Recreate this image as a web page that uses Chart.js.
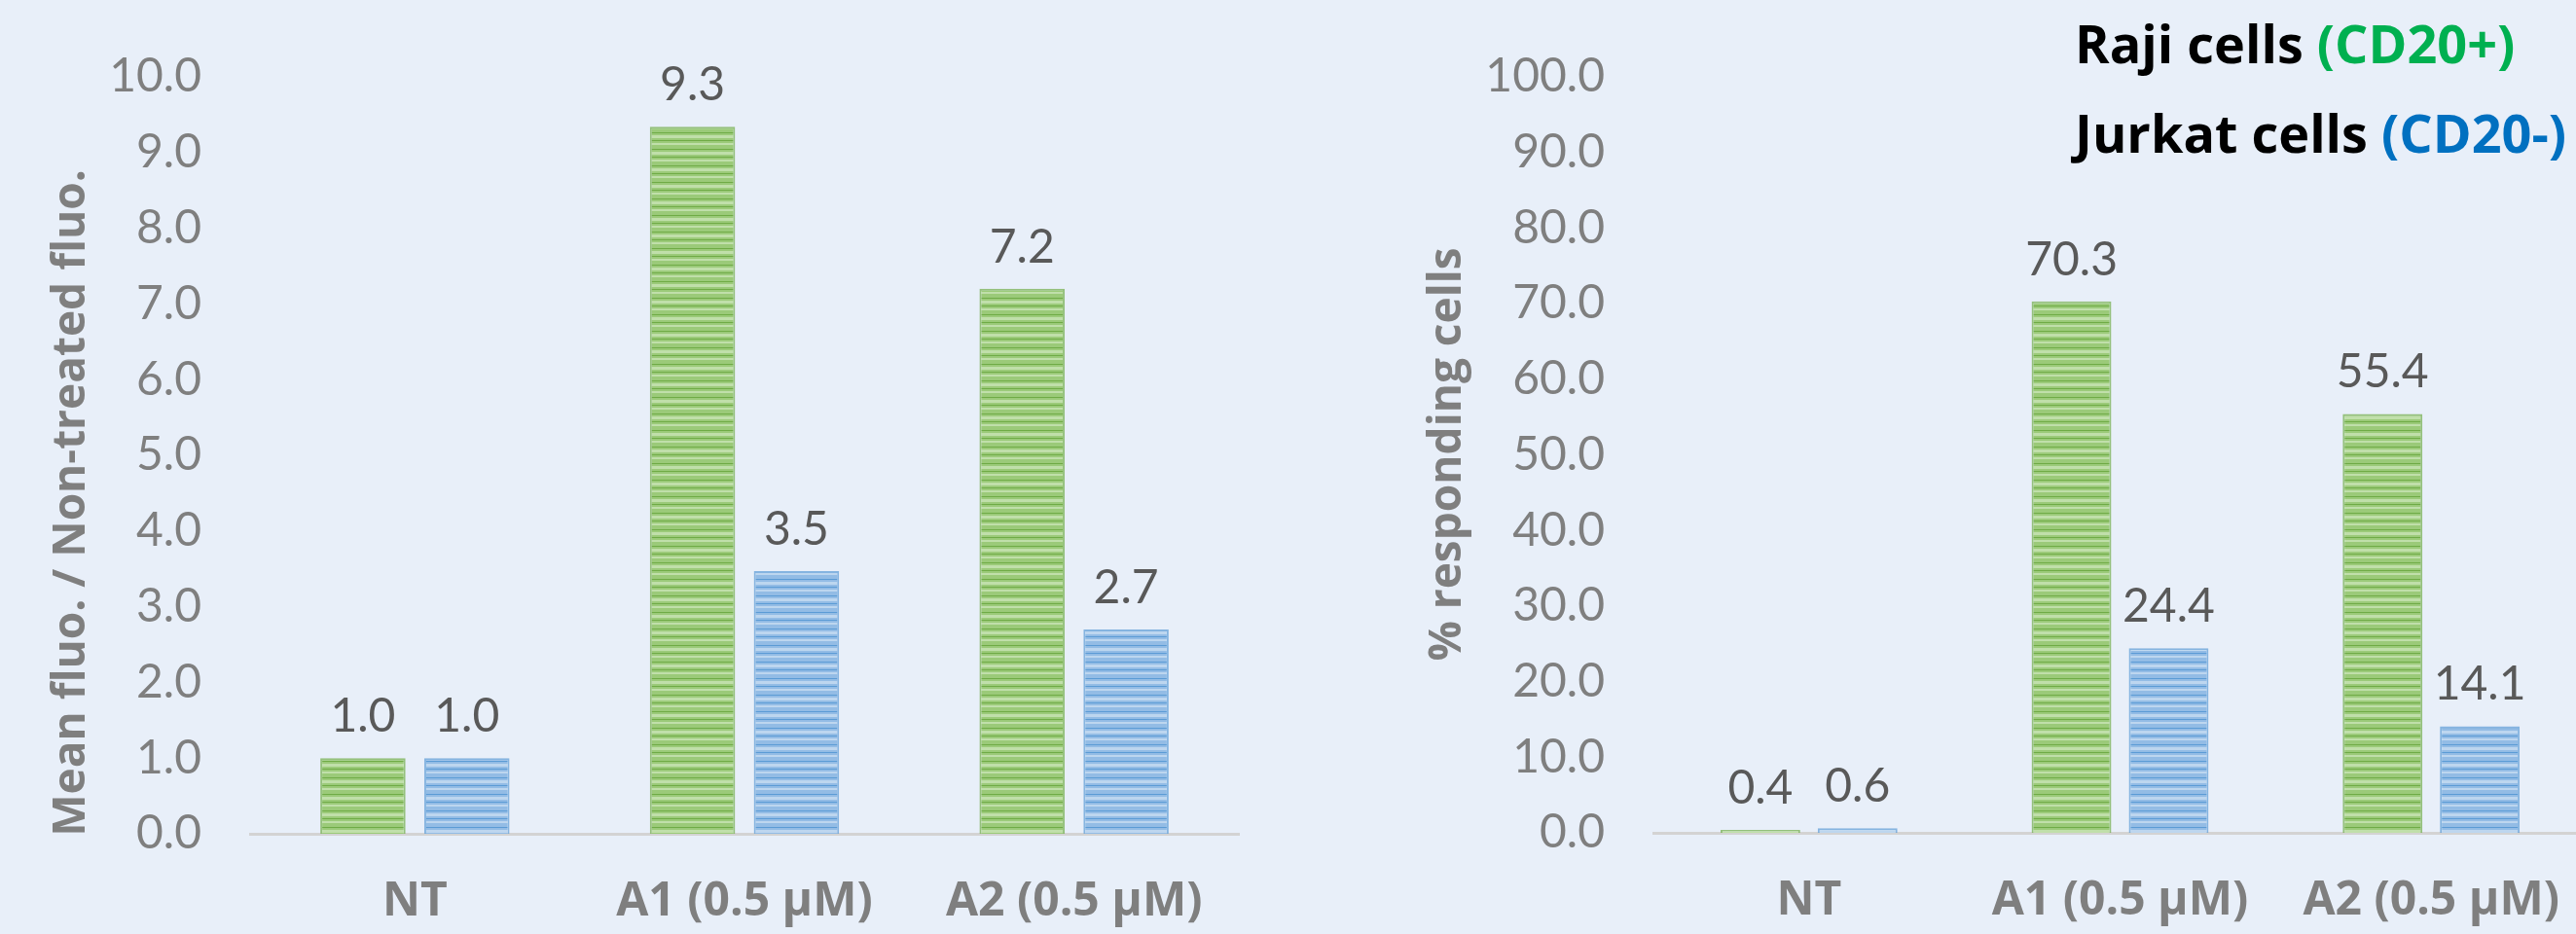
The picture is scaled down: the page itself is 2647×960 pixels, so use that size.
<!DOCTYPE html>
<html>
<head>
<meta charset="utf-8">
<script src="https://cdn.jsdelivr.net/npm/chart.js@4.4.1/dist/chart.umd.min.js"></script>
<style>
  html, body { margin: 0; padding: 0; width: 2647px; height: 960px; overflow: hidden; background: #e8eff9; }
  #fluo { position: absolute; left: 0; top: 0; }
  #resp { position: absolute; left: 1400px; top: 0; }
  #legend { position: absolute; left: 2132px; top: -2px; font: bold 54px "Open Sans"; line-height: 92px; color: #000; white-space: nowrap; }
  .raji { color: #00b050; }
  .jurkat { color: #0070c0; }
</style>
</head>
<body>
<canvas id="fluo" width="1400" height="960"></canvas>
<canvas id="resp" width="1300" height="960"></canvas>
<div id="legend">
  <div>Raji cells <span class="raji">(CD20+)</span></div>
  <div>Jurkat cells <span class="jurkat">(CD20-)</span></div>
</div>
<script>
const categories = ["NT", "A1 (0.5 µM)", "A2 (0.5 µM)"];
const seriesNames = ["Raji cells (CD20+)", "Jurkat cells (CD20-)"];

// left panel: mean fluorescence ratio
const rajiFluo = [1.0, 9.34, 7.2];
const jurkatFluo = [1.0, 3.47, 2.7];
const fluoMax = 10;
const fluoStep = 1;

// right panel: % responding cells
const rajiResp = [0.4, 70.3, 55.4];
const jurkatResp = [0.6, 24.4, 14.1];
const respMax = 100;
const respStep = 10;

const GREY = "#7f7f7f";

function stripes(base, light, dark) {
  const c = document.createElement("canvas");
  c.width = 4;
  c.height = 17;
  const g = c.getContext("2d");
  g.fillStyle = base;
  g.fillRect(0, 0, 4, 17);
  g.fillStyle = light;
  g.fillRect(0, 3, 4, 3);
  g.fillRect(0, 11, 4, 2);
  g.fillStyle = dark;
  g.fillRect(0, 0, 4, 1);
  g.fillRect(0, 8, 4, 1);
  return g.createPattern(c, "repeat");
}

const greenFill = stripes("#9bca79", "#c0dfaa", "#6fab46");
const blueFill = stripes("#93bce5", "#bdd6ef", "#5b9bd5");

// value above each bar
const valueLabels = {
  id: "valueLabels",
  afterDatasetsDraw(chart) {
    const ctx = chart.ctx;
    ctx.save();
    ctx.font = "48px Lato";
    ctx.fillStyle = "#595959";
    ctx.textAlign = "center";
    ctx.textBaseline = "alphabetic";
    chart.data.datasets.forEach((ds, i) => {
      chart.getDatasetMeta(i).data.forEach((bar, j) => {
        ctx.fillText(ds.data[j].toFixed(1), bar.x, bar.y - 27);
      });
    });
    ctx.restore();
  }
};

// rotated y axis title, placed by hand
const axisTitle = {
  id: "axisTitle",
  afterDraw(chart, args, opts) {
    const ctx = chart.ctx;
    ctx.save();
    ctx.translate(opts.x, opts.y);
    ctx.rotate(-Math.PI / 2);
    ctx.font = 'bold 46px "Open Sans"';
    ctx.fillStyle = GREY;
    ctx.textAlign = "center";
    ctx.textBaseline = "alphabetic";
    ctx.fillText(opts.text, 0, 0);
    ctx.restore();
  }
};

function makeChart(id, raji, jurkat, max, step, box) {
  const ctx = document.getElementById(id).getContext("2d");
  return new Chart(ctx, {
    type: "bar",
    data: {
      labels: categories,
      datasets: [
        {
          label: seriesNames[0],
          data: raji,
          backgroundColor: greenFill,
          borderColor: "rgba(112,173,71,0.7)",
          borderWidth: { left: 2, right: 2, top: 2, bottom: 0 }
        },
        {
          label: seriesNames[1],
          data: jurkat,
          backgroundColor: blueFill,
          borderColor: "rgba(91,155,213,0.7)",
          borderWidth: { left: 2, right: 2, top: 2, bottom: 0 }
        }
      ]
    },
    options: {
      responsive: false,
      maintainAspectRatio: false,
      animation: false,
      categoryPercentage: box.catPct,
      barPercentage: 0.82,
      layout: { padding: { left: 0, right: box.right, top: box.top, bottom: 0 } },
      plugins: {
        legend: { display: false },
        tooltip: { enabled: false },
        axisTitle: { text: box.title, x: box.titleX, y: box.titleY }
      },
      scales: {
        x: {
          grid: { display: false, drawTicks: false },
          border: { display: true, color: "#d3d3d3", width: 3 },
          ticks: {
            color: GREY,
            padding: 42,
            font: { family: "Open Sans", weight: "bold", size: 48 }
          },
          afterFit: s => { s.height = box.xHeight; }
        },
        y: {
          min: 0,
          max: max,
          grid: { display: false, drawTicks: false },
          border: { display: false },
          ticks: {
            stepSize: step,
            color: GREY,
            padding: 50,
            font: { family: "Lato", size: 48 },
            callback: v => v.toFixed(1)
          },
          afterFit: s => { s.width = box.yWidth; }
        }
      }
    },
    plugins: [valueLabels, axisTitle]
  });
}

makeChart("fluo", rajiFluo, jurkatFluo, fluoMax, fluoStep, {
  catPct: 0.631, right: 127, top: 73, xHeight: 103, yWidth: 257,
  title: "Mean fluo. / Non-treated fluo.", titleX: 87, titleY: 517
});

makeChart("resp", rajiResp, jurkatResp, respMax, respStep, {
  catPct: 0.625, right: 42, top: 78, xHeight: 104, yWidth: 299,
  title: "% responding cells", titleX: 101, titleY: 467
});
</script>
</body>
</html>
